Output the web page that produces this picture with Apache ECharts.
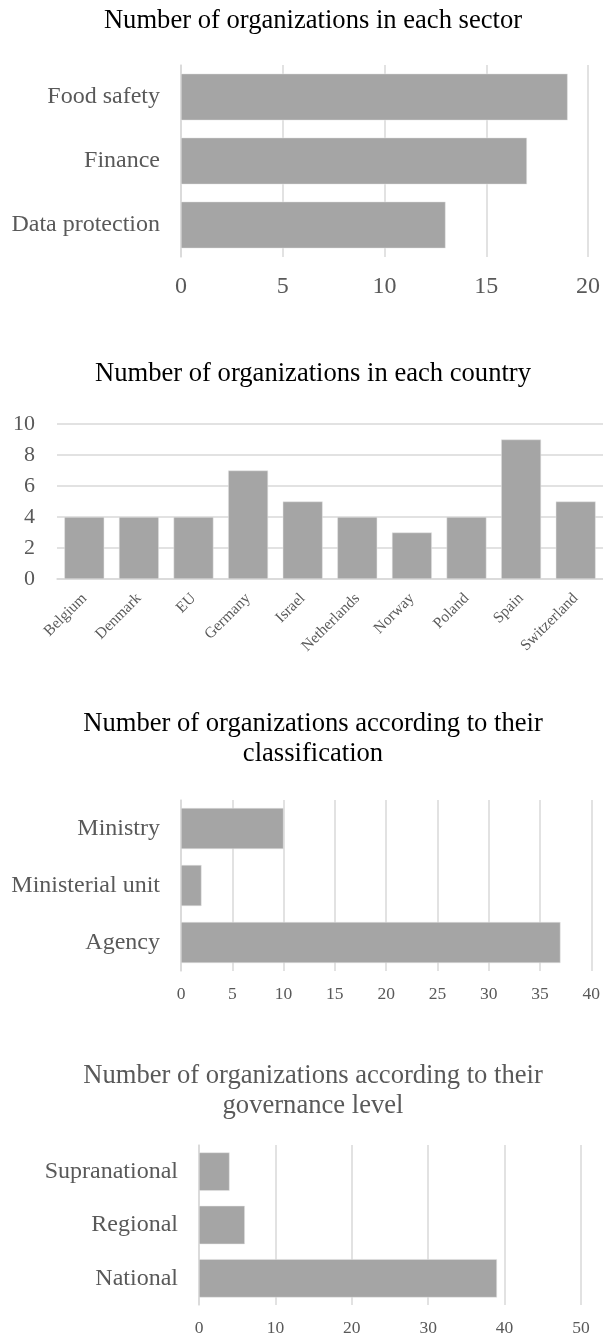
<!DOCTYPE html>
<html>
<head>
<meta charset="utf-8">
<script src="https://cdn.jsdelivr.net/npm/echarts@6/dist/echarts.min.js"></script>
<style>
  html, body { margin: 0; padding: 0; background: #fff; }
  #chart { width: 603px; height: 1337px; }
</style>
</head>
<body>
<div id="chart"></div>
<script>
// Organizations per sector (top to bottom)
const sectorCategories = ['Food safety', 'Finance', 'Data protection'];
const sectorValues = [19, 17, 13];

// Organizations per country
const countryCategories = ['Belgium', 'Denmark', 'EU', 'Germany', 'Israel', 'Netherlands', 'Norway', 'Poland', 'Spain', 'Switzerland'];
const countryValues = [4, 4, 4, 7, 5, 4, 3, 4, 9, 5];

// Organizations by classification (top to bottom)
const classCategories = ['Ministry', 'Ministerial unit', 'Agency'];
const classValues = [10, 2, 37];

// Organizations by governance level (top to bottom)
const levelCategories = ['Supranational', 'Regional', 'National'];
const levelValues = [4, 6, 39];

const FONT = 'Liberation Serif, Times New Roman, serif';
const BAR = '#a5a5a5';
const GRID = '#d9d9d9';
const LABEL = '#595959';
const TITLE_SIZE = 26.6;

const chart = echarts.init(document.getElementById('chart'), null, { renderer: 'canvas' });

function titleBlock(text, top, color) {
  return {
    text, left: 313, top, textAlign: 'center',
    padding: 0,
    textStyle: { fontFamily: FONT, fontSize: TITLE_SIZE, fontWeight: 'normal', color, lineHeight: 30 }
  };
}
function valueAxis(gridIndex, max, interval, fontSize, margin) {
  return {
    type: 'value', gridIndex, min: 0, max, interval,
    axisLine: { show: false }, axisTick: { show: false },
    splitLine: { show: true, lineStyle: { color: GRID, width: 1.5 } },
    axisLabel: { color: LABEL, fontFamily: FONT, fontSize, margin }
  };
}
function catAxis(gridIndex, data, fontSize, margin) {
  return {
    type: 'category', gridIndex, data, inverse: true,
    axisLine: { show: true, lineStyle: { color: GRID, width: 1.5 } },
    axisTick: { show: false },
    axisLabel: { color: LABEL, fontFamily: FONT, fontSize, margin }
  };
}
function barSeries(idx, data, gap) {
  return {
    type: 'bar', xAxisIndex: idx, yAxisIndex: idx, data,
    barCategoryGap: gap,
    itemStyle: { color: BAR, borderColor: '#e6e6e6', borderWidth: 0.5 },
    silent: true, animation: false
  };
}

const option = {
  animation: false,
  backgroundColor: '#fff',
  title: [
    titleBlock('Number of organizations in each sector', 6, '#000'),
    titleBlock('Number of organizations in each country', 359, '#000'),
    titleBlock('Number of organizations according to their\nclassification', 709, '#000'),
    titleBlock('Number of organizations according to their\ngovernance level', 1061, LABEL)
  ],
  grid: [
    { left: 181, right: 12, top: 65, height: 192, containLabel: false },
    { left: 57, right: 0, top: 424, height: 155, containLabel: false },
    { left: 181, right: 11, top: 800, height: 171, containLabel: false },
    { left: 199, right: 22, top: 1145, height: 161, containLabel: false }
  ],
  xAxis: [
    valueAxis(0, 20, 5, 24, 18),
    {
      type: 'category', gridIndex: 1, data: countryCategories,
      axisLine: { show: true, lineStyle: { color: GRID, width: 1.5 } },
      axisTick: { show: false },
      axisLabel: { color: LABEL, fontFamily: FONT, fontSize: 15.5, rotate: 45, margin: 17, interval: 0 }
    },
    valueAxis(2, 40, 5, 17.5, 14),
    valueAxis(3, 50, 10, 17.5, 14)
  ],
  yAxis: [
    catAxis(0, sectorCategories, 24, 21),
    {
      type: 'value', gridIndex: 1, min: 0, max: 10, interval: 2,
      axisLine: { show: false }, axisTick: { show: false },
      splitLine: { show: true, lineStyle: { color: GRID, width: 1.5 } },
      axisLabel: { color: LABEL, fontFamily: FONT, fontSize: 22, margin: 22 }
    },
    catAxis(2, classCategories, 24, 21),
    catAxis(3, levelCategories, 24, 21)
  ],
  series: [
    barSeries(0, sectorValues, '27%'),
    barSeries(1, countryValues, '27%'),
    barSeries(2, classValues, '28%'),
    barSeries(3, levelValues, '28%')
  ]
};

chart.setOption(option);
</script>
</body>
</html>
